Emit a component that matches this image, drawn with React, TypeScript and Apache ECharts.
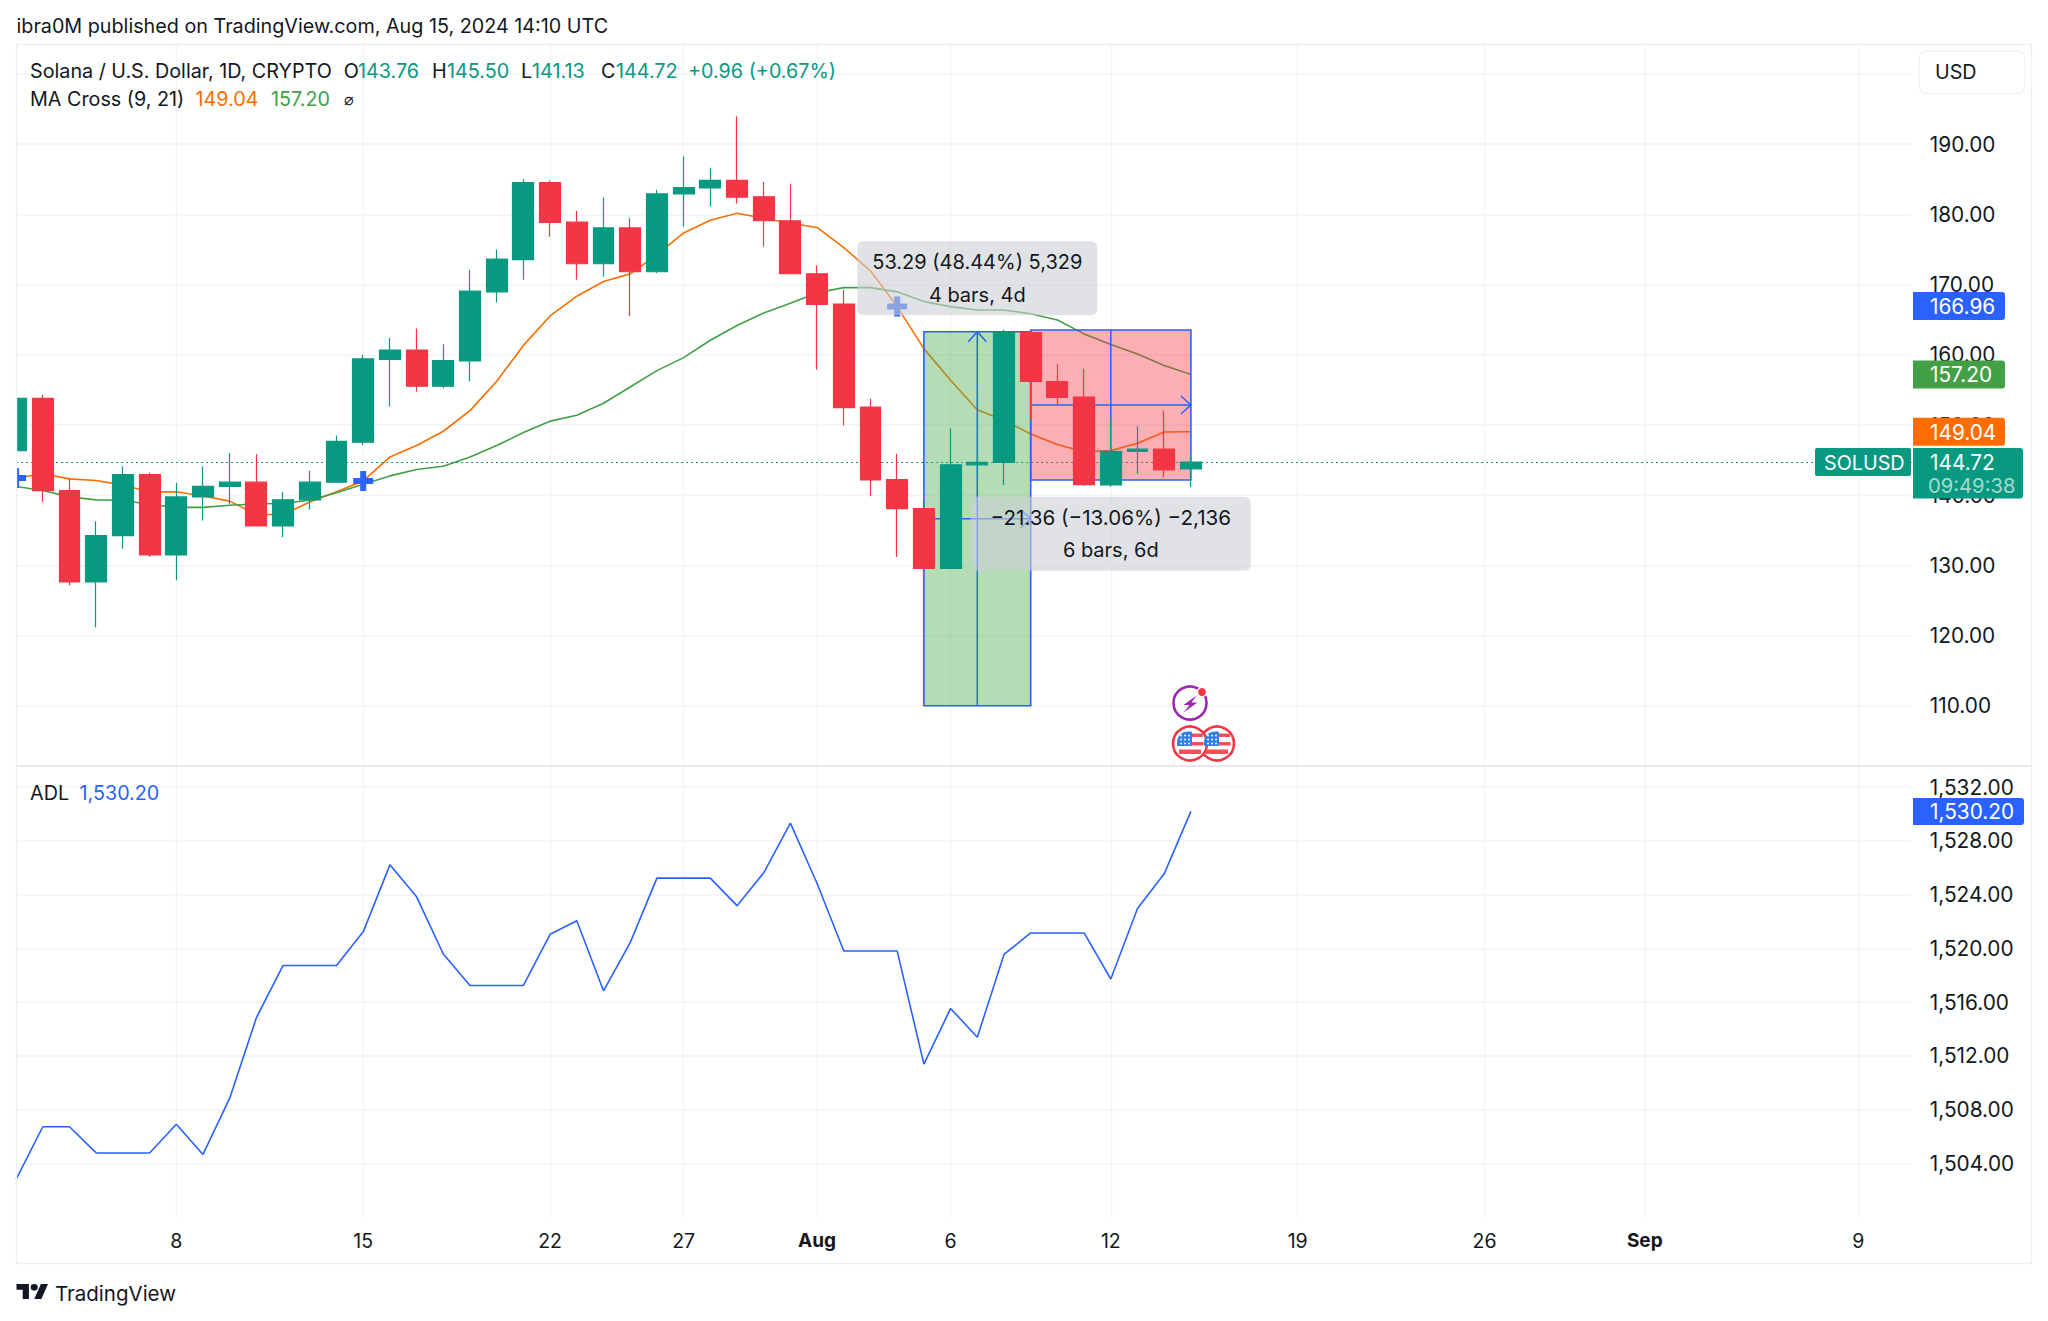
import React, { useEffect, useRef } from "react";
import * as echarts from "echarts";

const FONT = "Inter, 'Noto Sans', sans-serif";
const INK = "#131722";
const UP = "#089981";
const DOWN = "#f23645";
const BLUE = "#2962ff";
const ORANGE = "#ff6d00";
const GREEN = "#43a047";
const GRIDC = "#f2f3f7";

const days: string[] = [
  "Jul 2","Jul 3","Jul 4","Jul 5","Jul 6","Jul 7","Jul 8","Jul 9","Jul 10","Jul 11","Jul 12","Jul 13","Jul 14","Jul 15","Jul 16",
  "Jul 17","Jul 18","Jul 19","Jul 20","Jul 21","Jul 22","Jul 23","Jul 24","Jul 25","Jul 26","Jul 27","Jul 28","Jul 29","Jul 30","Jul 31",
  "Aug 1","Aug 2","Aug 3","Aug 4","Aug 5","Aug 6","Aug 7","Aug 8","Aug 9","Aug 10","Aug 11","Aug 12","Aug 13","Aug 14","Aug 15","Aug 16",
  "Aug 17","Aug 18","Aug 19","Aug 20","Aug 21","Aug 22","Aug 23","Aug 24","Aug 25","Aug 26","Aug 27","Aug 28","Aug 29","Aug 30","Aug 31",
  "Sep 1","Sep 2","Sep 3","Sep 4","Sep 5","Sep 6","Sep 7","Sep 8","Sep 9","Sep 10","Sep 11",
];
const dayTicks: Record<string, string> = {
  "Jul 8": "8", "Jul 15": "15", "Jul 22": "22", "Jul 27": "27", "Aug 1": "Aug", "Aug 6": "6",
  "Aug 12": "12", "Aug 19": "19", "Aug 26": "26", "Sep 1": "Sep", "Sep 9": "9",
};

// [open, close, low, high]
const candles: number[][] = [
  [146.35,153.8,146.3,154.75],[153.8,140.66,139.04,154.27],[140.66,127.65,127.17,142.45],[127.65,134.24,121.17,136.28],
  [134.24,142.93,132.38,144.13],[142.93,131.48,131.24,143.23],[131.48,139.76,127.89,141.79],[139.76,141.26,136.4,144.13],
  [141.26,141.86,138.68,146],[141.86,135.62,135.62,145.87],[135.62,139.34,134.06,140.47],[139.34,141.86,137.96,143.47],
  [141.86,147.67,141.86,148.5],[147.55,159.42,147.13,160.02],[159.36,160.68,152.65,162.42],[160.68,155.52,154.74,163.74],
  [155.52,159.18,155.22,161.52],[159.12,169.07,156.24,172.13],[168.95,173.63,167.45,175.01],[173.57,184.54,170.69,185.02],
  [184.54,178.85,176.81,184.84],[178.9,172.97,170.69,180.52],[172.97,178.07,171.11,182.44],[178.07,171.83,165.54,179.44],
  [171.83,182.92,171.65,183.52],[182.92,183.82,178.25,188.26],[183.78,184.86,181.14,186.66],[184.86,182.46,181.56,193.97],
  [182.52,179.1,175.39,184.62],[179.1,171.55,171.55,184.38],[171.55,167.17,157.88,172.75],[167.23,152.49,149.97,169.27],
  [152.55,142.17,139.84,153.74],[142.23,138.1,131.2,145.89],[138.1,129.58,110,139.17],[129.58,144.33,129.58,149.49],
  [144.33,144.69,142.41,154.88],[144.69,163.16,141.45,163.58],[163.16,156.2,150.68,163.3],[156.2,153.92,152.78,158.66],
  [153.98,141.51,141.33,158],[141.45,146.25,141.21,150.69],[146.25,146.55,143.01,149.79],[146.55,143.61,142.53,152.07],
  [143.76,144.72,141.13,145.5],
];
const ma9: number[] = [
  142.45,143.05,142.33,142.09,141.43,140.48,140.48,139.88,139.16,137.24,137.24,139.04,140.48,142.03,145.45,147.07,149.11,152.05,
  156.24,161.34,165.54,168.35,170.45,171.53,174.23,177.36,179.16,180.18,179.46,178.74,178.14,175.27,171.97,166.87,160.88,156.38,
  152.18,150.69,148.71,147.21,146.19,146.37,147.39,149.0,149.04,
];
const ma21: number[] = [
  141.25,140.66,139.76,139.34,139.28,138.68,138.26,138.26,138.56,138.74,138.86,139.28,140.36,141.56,142.75,143.65,144.13,145.45,
  147.07,148.93,150.55,151.39,153.1,155.42,157.75,159.6,162.08,164.18,165.97,167.35,168.85,169.57,169.57,168.97,167.59,166.87,
  166.39,166.39,165.85,164.95,162.98,161.48,160.1,158.48,157.2,
];
const adl: number[] = [
  1502.8,1506.72,1506.72,1504.77,1504.77,1504.77,1506.9,1504.66,1508.85,1514.84,1518.73,1518.73,1518.73,1521.23,1526.22,1523.84,
  1519.58,1517.24,1517.24,1517.24,1521.05,1522.06,1516.84,1520.43,1525.23,1525.23,1525.23,1523.18,1525.63,1529.33,1524.83,1519.8,
  1519.8,1519.8,1511.38,1515.53,1513.38,1519.55,1521.15,1521.15,1521.15,1517.72,1522.97,1525.55,1530.2,
];
// MA cross markers: [dayIndex, price]
const crosses: number[][] = [[0,142.45],[13,142.03],[33,166.87]];

const priceGrid: number[] = [110,120,130,140,150,160,170,180,190,200];
const priceLabels: number[] = [110,120,130,140,150,160,170,180,190];
const adlTicks: number[] = [1504,1508,1512,1516,1520,1524,1528,1532];
const lastPrice = 144.72;

// [startDay, endDay, low, high, arrowDay, direction]
const ranges: number[][] = [[34,38,110,163.29,36,1],[38,44,142.17,163.53,41,-1]];
const rangeFills: string[] = ["rgba(76,175,80,0.42)","rgba(242,54,69,0.4)"];
const rangeNotes: string[][] = [
  ["53.29 (48.44%) 5,329","4 bars, 4d"],
  ["\u221221.36 (\u221213.06%) \u22122,136","6 bars, 6d"],
];
// [centerDay, priceOfFirstLine, priceOfSecondLine]
const noteAnchors: number[][] = [[36,173.18,168.48],[41,136.8,132.17]];
const priceTags: number[] = [166.96,157.2,149.04];
const priceTagColors: string[] = [BLUE,GREEN,ORANGE];

echarts.graphic.registerShape(
  "tvLogo",
  echarts.graphic.extendPath("M14 22H7V11H0V4h14v18zM28 22h-8l7.5-18h8L28 22zM24 8a4 4 0 1 1-8 0 4 4 0 0 1 8 0z", {})
);

const TXT = 19.75;
const AXT = 20.8;
function label(text: string, x: number, y: number, color = INK, extra: any = {}) {
  return {
    type: "text", x, y, z: 20, silent: true,
    style: { text, fill: color, font: `${extra.weight || 400} ${extra.size || TXT}px ${FONT}`, verticalAlign: "middle", align: extra.align || "left" },
  };
}

function flag(cx: number, cy: number): any[] {
  const out: any[] = [
    { type: "circle", z: 21, shape: { cx, cy, r: 17 }, style: { fill: "#fff", stroke: DOWN, lineWidth: 2.6 } },
    { type: "rect", z: 22, shape: { x: cx + 2, y: cy - 10, width: 11, height: 3.5 }, style: { fill: "#f2505c" } },
    { type: "rect", z: 22, shape: { x: cx + 2, y: cy - 1.5, width: 11.5, height: 3.5 }, style: { fill: "#f2505c" } },
    { type: "rect", z: 22, shape: { x: cx - 11, y: cy + 6, width: 22, height: 4.5 }, style: { fill: "#f2505c" } },
    { type: "rect", z: 22, shape: { x: cx - 13, y: cy - 12, width: 15, height: 14.5, r: [11, 1, 1, 1] }, style: { fill: "#2f80ed" } },
  ];
  for (const dx of [-9, -5, -1]) for (const dy of [-8, -4, 0]) {
    out.push({ type: "circle", z: 23, shape: { cx: cx + dx, cy: cy + dy, r: 0.9 }, style: { fill: "#fff" } });
  }
  return out;
}

function chevron(x: number, y: number, dx: number, dy: number) {
  return { type: "polyline", shape: { points: dy === 0
      ? [[x - dx, y - 9], [x, y], [x - dx, y + 9]]
      : [[x - 9, y + dy], [x, y], [x + 9, y + dy]] }, style: { stroke: BLUE, lineWidth: 1.5, fill: "none" } };
}

function renderRange(params: any, api: any) {
  const i = params.dataIndex;
  const [x0, yLow] = api.coord([api.value(0), api.value(2)]);
  const [x1, yHigh] = api.coord([api.value(1), api.value(3)]);
  const xm = api.coord([api.value(4), 0])[0];
  const dir = api.value(5);
  const ym = (yLow + yHigh) / 2;
  const children: any[] = [
    { type: "rect", shape: { x: x0, y: yHigh, width: x1 - x0, height: yLow - yHigh }, style: { fill: rangeFills[i], stroke: BLUE, lineWidth: 1.6 } },
    { type: "line", shape: { x1: xm, y1: yLow, x2: xm, y2: yHigh }, style: { stroke: BLUE, lineWidth: 1.5 } },
    { type: "line", shape: { x1: x0, y1: ym, x2: x1, y2: ym }, style: { stroke: BLUE, lineWidth: 1.5 } },
    chevron(x1, ym, 10, 0),
    dir > 0 ? chevron(xm, yHigh, 0, 10) : chevron(xm, yLow, 0, -10),
  ];
  return { type: "group", children };
}

function renderNote(params: any, api: any) {
  const i = params.dataIndex;
  const cx = api.coord([api.value(0), 0])[0];
  const y1 = api.coord([0, api.value(1)])[1];
  const y2 = api.coord([0, api.value(2)])[1];
  const w = i === 0 ? 240 : 280;
  const size = i === 0 ? 20 : 20.6;
  return {
    type: "group",
    children: [
      { type: "rect", shape: { x: cx - w / 2, y: y1 - 21, width: w, height: 74, r: 6 }, style: { fill: "rgba(205,206,211,0.6)" } },
      { type: "text", x: cx, y: y1, style: { text: rangeNotes[i][0], fill: INK, font: `${size}px ${FONT}`, align: "center", verticalAlign: "middle" } },
      { type: "text", x: cx, y: y2, style: { text: rangeNotes[i][1], fill: INK, font: `20px ${FONT}`, align: "center", verticalAlign: "middle" } },
    ],
  };
}

function renderTag(params: any, api: any) {
  const i = params.dataIndex;
  const y = api.coord([0, api.value(1)])[1];
  return {
    type: "group",
    children: [
      { type: "rect", shape: { x: 1913, y: y - 14, width: 92, height: 28, r: [0, 3, 3, 0] }, style: { fill: priceTagColors[i] } },
      { type: "text", x: 1930, y: y + 0.5, style: { text: api.value(1).toFixed(2), fill: "#fff", font: `${AXT}px ${FONT}`, verticalAlign: "middle" } },
    ],
  };
}

function renderLast(_params: any, api: any) {
  const y = api.coord([0, api.value(1)])[1];
  return {
    type: "group",
    children: [
      { type: "rect", shape: { x: 1815, y: y - 14, width: 96, height: 28, r: 2 }, style: { fill: UP } },
      { type: "text", x: 1824, y: y + 0.5, style: { text: "SOLUSD", fill: "#fff", font: `${TXT}px ${FONT}`, verticalAlign: "middle" } },
      { type: "rect", shape: { x: 1913, y: y - 14, width: 110, height: 50.5, r: [0, 3, 3, 0] }, style: { fill: UP } },
      { type: "text", x: 1930, y: y + 0.5, style: { text: api.value(1).toFixed(2), fill: "#fff", font: `${AXT}px ${FONT}`, verticalAlign: "middle" } },
      { type: "text", x: 1928, y: y + 23.5, style: { text: "09:49:38", fill: "rgba(255,255,255,0.65)", font: `20.2px ${FONT}`, verticalAlign: "middle" } },
    ],
  };
}

function renderAdlTag(_params: any, api: any) {
  const y = api.coord([0, api.value(1)])[1];
  const text = api.value(1).toLocaleString("en-US", { minimumFractionDigits: 2, maximumFractionDigits: 2 });
  return {
    type: "group",
    children: [
      { type: "rect", shape: { x: 1913, y: y - 13.5, width: 111, height: 27, r: [0, 3, 3, 0] }, style: { fill: BLUE } },
      { type: "text", x: 1930, y: y + 0.5, style: { text, fill: "#fff", font: `${AXT}px ${FONT}`, verticalAlign: "middle" } },
    ],
  };
}

function buildOption(): any {
  const tickFn = (_: number, v: string) => v in dayTicks;
  const xBase = {
    type: "category", data: days, boundaryGap: false,
    axisLine: { show: false }, axisTick: { show: false },
    splitLine: { show: true, interval: tickFn, lineStyle: { color: GRIDC, width: 1.4 } },
  };
  const yBase = {
    type: "value", position: "right", scale: true,
    axisLine: { show: false },
    splitLine: { show: true, lineStyle: { color: GRIDC, width: 1.6 } },
  };
  const graphics: any[] = [
    { type: "rect", z: 30, silent: true, shape: { x: 0, y: 40, width: 16, height: 730 }, style: { fill: "#fff" } },
    { type: "rect", z: 31, silent: true, shape: { x: 16.5, y: 44.5, width: 2015, height: 1219 }, style: { fill: "none", stroke: "#eef0f5", lineWidth: 1.4 } },
    { type: "line", z: 19, silent: true, shape: { x1: 16, y1: 766, x2: 2032, y2: 766 }, style: { stroke: "#e6e7ef", lineWidth: 2.2 } },
    { type: "rect", z: 20, silent: true, shape: { x: 1919, y: 51, width: 106, height: 42.5, r: 8 }, style: { fill: "#fff", stroke: "#f0f1f5", lineWidth: 1.4 } },
    label("USD", 1935, 72),
    label("ibra0M published on TradingView.com, Aug 15, 2024 14:10 UTC", 16.5, 26),
    label("Solana / U.S. Dollar, 1D, CRYPTO", 30, 71),
    label("O", 343.7, 71), label("143.76", 358, 71, UP),
    label("H", 432, 71), label("145.50", 447, 71, UP),
    label("L", 521, 71), label("141.13", 532, 71, UP),
    label("C", 601, 71), label("144.72", 616, 71, UP),
    label("+0.96 (+0.67%)", 688, 71, UP),
    label("MA Cross (9, 21)", 30, 99),
    label("149.04", 195.5, 99, ORANGE),
    label("157.20", 271, 99, GREEN),
    label("\u2300", 343.7, 99, INK, { size: 16 }),
    label("ADL", 30, 793),
    label("1,530.20", 79.5, 793, BLUE),
    label("TradingView", 55, 1293, INK, { size: 20.5 }),
    { type: "tvLogo", x: 16.5, y: 1280.7, scaleX: 0.887, scaleY: 0.83, z: 20, style: { fill: INK } },
    { type: "circle", z: 21, shape: { cx: 1190, cy: 703, r: 16.5 }, style: { fill: "#fff", stroke: "#9c27b0", lineWidth: 2.6 } },
    { type: "polygon", z: 22, shape: { points: [[1196.5, 695.5], [1183.5, 705], [1189.5, 705], [1183.5, 712.5], [1197.5, 702.5], [1191.5, 702.5]] }, style: { fill: "#9c27b0" } },
    { type: "circle", z: 23, shape: { cx: 1202, cy: 692, r: 4.6 }, style: { fill: DOWN, stroke: "#fff", lineWidth: 1.4 } },
    ...flag(1217, 743.5),
    ...flag(1190, 743.5),
  ];
  return {
    animation: false,
    backgroundColor: "#ffffff",
    textStyle: { fontFamily: FONT },
    graphic: { elements: graphics },
    grid: [
      { left: 16.1, width: 1895.7, top: 44, height: 722 },
      { left: 16.1, width: 1895.7, top: 766, height: 451 },
    ],
    xAxis: [
      { ...xBase, gridIndex: 0, axisLabel: { show: false } },
      {
        ...xBase, gridIndex: 1,
        axisLabel: {
          show: true, interval: tickFn, margin: 14, color: INK, fontSize: 19.5, fontFamily: FONT,
          formatter: (v: string) => {
            const t = dayTicks[v] || "";
            return /[A-Z]/.test(t) ? `{b|${t}}` : t;
          },
          rich: { b: { fontWeight: 700, fontSize: 19, color: INK, fontFamily: FONT } },
        },
      },
    ],
    yAxis: [
      {
        ...yBase, gridIndex: 0, min: 101.42, max: 204.28,
        axisTick: { show: false, customValues: priceGrid },
        axisLabel: { customValues: priceLabels, color: INK, fontSize: AXT, fontFamily: FONT, margin: 18, align: "left", formatter: (v: number) => v.toFixed(2) },
      },
      {
        ...yBase, gridIndex: 1, min: 1500, max: 1533.58,
        axisTick: { show: false, customValues: adlTicks },
        axisLabel: {
          customValues: adlTicks, color: INK, fontSize: AXT, fontFamily: FONT, margin: 18, align: "left",
          formatter: (v: number) => v.toLocaleString("en-US", { minimumFractionDigits: 2, maximumFractionDigits: 2 }),
        },
      },
    ],
    series: [
      { name: "MA 9", type: "line", z: 2, data: ma9, symbol: "none", lineStyle: { color: ORANGE, width: 1.6 } },
      { name: "MA 21", type: "line", z: 2, data: ma21, symbol: "none", lineStyle: { color: GREEN, width: 1.6 } },
      {
        name: "Cross", type: "scatter", z: 3, data: crosses, symbol: "path://M7 0h6v7h7v6h-7v7H7v-7H0V7h7z", symbolSize: 20,
        itemStyle: { color: BLUE, opacity: 1 },
      },
      {
        name: "Ranges", type: "custom", z: 4, renderItem: renderRange, data: ranges,
        encode: { x: [0, 1], y: [2, 3] }, silent: true,
      },
      {
        name: "Solana", type: "candlestick", z: 5, data: candles, barWidth: 21.4,
        itemStyle: { color: UP, color0: DOWN, borderColor: UP, borderColor0: DOWN, borderWidth: 1.2 },
        markLine: {
          silent: true, symbol: "none", label: { show: false }, z: 3,
          lineStyle: { color: UP, type: [2, 3], width: 1.2 },
          data: [{ yAxis: lastPrice }],
        },
      },
      {
        name: "Notes", type: "custom", z: 6, renderItem: renderNote, data: noteAnchors,
        encode: { x: 0, y: [1, 2] }, silent: true,
      },
      {
        name: "Tags", type: "custom", z: 10, renderItem: renderTag, data: priceTags.map((v) => [0, v]),
        encode: { x: 0, y: 1 }, silent: true,
      },
      {
        name: "Last", type: "custom", z: 11, renderItem: renderLast, data: [[0, lastPrice]],
        encode: { x: 0, y: 1 }, silent: true,
      },
      { name: "ADL", type: "line", z: 2, xAxisIndex: 1, yAxisIndex: 1, data: adl, symbol: "none", lineStyle: { color: BLUE, width: 1.6 } },
      {
        name: "ADL tag", type: "custom", z: 10, xAxisIndex: 1, yAxisIndex: 1, renderItem: renderAdlTag, data: [[0, adl[adl.length - 1]]],
        encode: { x: 0, y: 1 }, silent: true,
      },
    ],
  };
}

export default function App() {
  const ref = useRef<HTMLDivElement>(null);
  useEffect(() => {
    document.body.style.margin = "0";
    document.body.style.background = "#fff";
    const chart = echarts.init(ref.current!, undefined, { renderer: "svg" });
    chart.setOption(buildOption());
    return () => chart.dispose();
  }, []);
  return <div ref={ref} style={{ width: 2048, height: 1321 }} />;
}
